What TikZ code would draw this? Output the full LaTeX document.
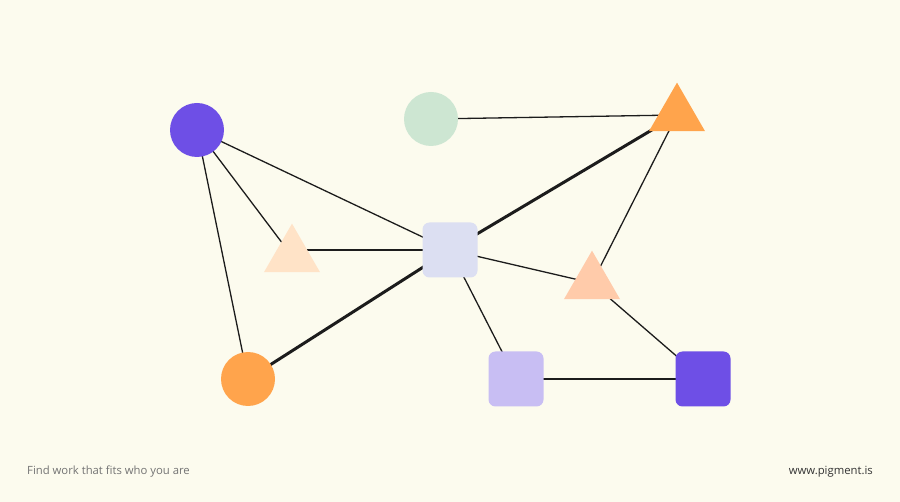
\documentclass[tikz,border=0pt]{standalone}
\usepackage{fontspec}
\setmainfont{Open Sans}
\usetikzlibrary{shapes.geometric,backgrounds}

\definecolor{cream}{HTML}{FCFBEE}
\definecolor{violet}{HTML}{6E4FE6}
\definecolor{mint}{HTML}{CDE6D2}
\definecolor{tangerine}{HTML}{FFA44C}
\definecolor{peachlight}{HTML}{FFE3C7}
\definecolor{peach}{HTML}{FFCBAA}
\definecolor{periwinkle}{HTML}{DCDFF2}
\definecolor{lavender}{HTML}{C8BEF3}
\definecolor{inkline}{HTML}{1C1C1C}

\pgfdeclarelayer{edges}
\pgfsetlayers{background,edges,main}

\tikzset{
  dot/.style={circle, minimum size=54pt, inner sep=0pt},
  tri/.style={regular polygon, regular polygon sides=3, minimum size=64.7pt, inner sep=0pt},
  tile/.style={rectangle, rounded corners=7pt, minimum size=55pt, inner sep=0pt},
  link/.style={inkline, line width=1.3pt},
  boldlink/.style={inkline, line width=3pt},
  footer/.style={inner sep=0pt, font=\fontsize{11.3}{14}\selectfont}
}

\begin{document}
\begin{tikzpicture}[x=1pt, y=-1pt]
  \useasboundingbox (0,0) rectangle (900,502);
  \begin{pgfonlayer}{background}
    \fill[cream] (0,0) rectangle (900,502);
  \end{pgfonlayer}

  % shapes
  \node[dot, fill=violet] (violetdot) at (197,130) {};
  \node[dot, fill=mint] (mintdot) at (431,119) {};
  \node[dot, fill=tangerine] (orangedot) at (248,379) {};
  \node[tri, fill=tangerine] (toptri) at (677,115) {};
  \node[tri, fill=peachlight] (lefttri) at (292,256) {};
  \node[tri, fill=peach] (righttri) at (592,283) {};
  \node[tile, fill=periwinkle] (hub) at (450,250) {};
  \node[tile, fill=lavender] (lavtile) at (516,379) {};
  \node[tile, fill=violet] (violettile) at (703,379) {};

  % connectors
  \begin{pgfonlayer}{edges}
    \draw[link] (violetdot.center) -- (hub.center);
    \draw[link] (violetdot.center) -- (lefttri.center);
    \draw[link] (violetdot.center) -- (orangedot.center);
    \draw[link] (lefttri.center |- hub.center) -- (hub.center);
    \draw[boldlink] (orangedot.center) -- (hub.center);
    \draw[boldlink] (hub.center) -- (toptri.center);
    \draw[link] (mintdot.center) -- (toptri.center);
    \draw[link] (toptri.center) -- (righttri.center);
    \draw[link] (hub.center) -- (righttri.center);
    \draw[link] (hub.center) -- (lavtile.center);
    \draw[link] (righttri.center) -- (violettile.center);
    \draw[link] (lavtile.center) -- (violettile.center);
  \end{pgfonlayer}

  % footer
  \node[footer, anchor=base west, text=black!55] (tagline) at (27,475) {Find work that fits who you are};
  \node[footer, anchor=base east, text=black!80] (site) at (873,475) {www.pigment.is};
\end{tikzpicture}
\end{document}
